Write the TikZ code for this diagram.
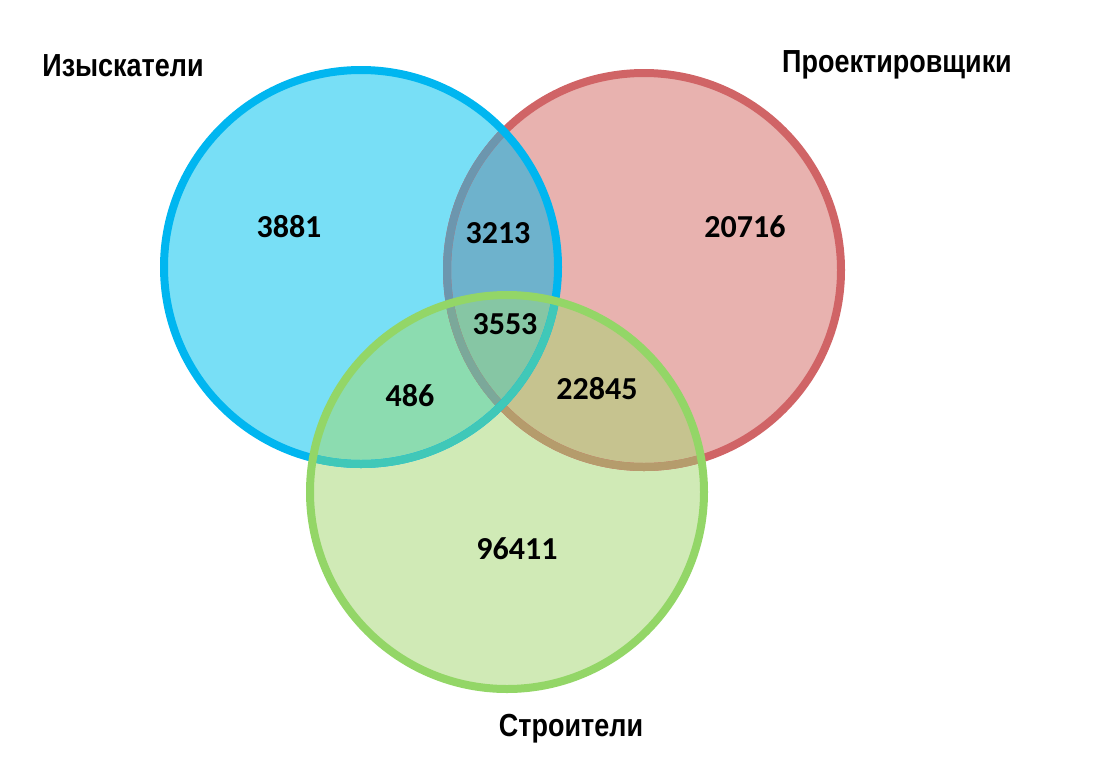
\documentclass[tikz,border=0pt]{standalone}
\usepackage{fontspec}
\setmainfont{Liberation Sans}
\newfontfamily\numfont{Carlito}
\definecolor{bluefill}{HTML}{78DFF6}
\definecolor{redfill}{HTML}{E8B2AF}
\definecolor{greenfill}{HTML}{D0EAB6}
\definecolor{brfill}{HTML}{6EB2CC}
\definecolor{bgfill}{HTML}{8CDCB0}
\definecolor{rgfill}{HTML}{C6C38F}
\definecolor{allfill}{HTML}{86C6A4}
\definecolor{blueline}{HTML}{00B6F0}
\definecolor{redline}{HTML}{D06466}
\definecolor{greenline}{HTML}{93D667}
\definecolor{redunderblue}{HTML}{6C96AE}
\definecolor{redundergreen}{HTML}{B59C6C}
\definecolor{redunderboth}{HTML}{7BA89A}
\definecolor{blueundergreen}{HTML}{40C8B8}
\newcommand{\lbltext}[1]{\scalebox{0.93}[1.1]{#1}}
\tikzset{
  ring/.style={line width=8pt},
  setlabel/.style={font=\fontsize{29}{34}\selectfont\bfseries, inner sep=0pt},
  count/.style={font=\numfont\fontsize{32}{36}\selectfont\bfseries, inner sep=0pt}
}
\begin{document}
\begin{tikzpicture}[x=1pt,y=-1pt]
\useasboundingbox (0,0) rectangle (1102,774);
\def\cB{(361,267) circle (197pt)}
\def\cR{(644,270) circle (197pt)}
\def\cG{(507,492) circle (197pt)}
% region fills
\fill[bluefill] \cB;
\fill[redfill] \cR;
\fill[greenfill] \cG;
\begin{scope}\clip \cB; \fill[brfill] \cR; \end{scope}
\begin{scope}\clip \cB; \fill[bgfill] \cG; \end{scope}
\begin{scope}\clip \cR; \fill[rgfill] \cG; \end{scope}
\begin{scope}\clip \cB; \clip \cR; \fill[allfill] \cG; \end{scope}
% outlines
\draw[ring, redline] \cR;
\begin{scope}\clip \cB; \draw[ring, redunderblue] \cR; \end{scope}
\begin{scope}\clip \cG; \draw[ring, redundergreen] \cR; \end{scope}
\begin{scope}\clip \cB; \clip \cG; \draw[ring, redunderboth] \cR; \end{scope}
\draw[ring, blueline] \cB;
\begin{scope}\clip \cG; \draw[ring, blueundergreen] \cB; \end{scope}
\draw[ring, greenline] \cG;
% labels
\node[setlabel] (lb) at (123,66) {\lbltext{Изыскатели}};
\node[setlabel] (lr) at (897,65) {\lbltext{Проектировщики}};
\node[setlabel] (lg) at (571,729) {\lbltext{Строители}};
% counts
\node[count] (nb) at (289,227) {3881};
\node[count] (nbr) at (498,233) {3213};
\node[count] (nr) at (745,227) {20716};
\node[count] (nall) at (505,324) {3553};
\node[count] (nbg) at (410,396) {486};
\node[count] (nrg) at (597,389) {22845};
\node[count] (ng) at (517,549) {96411};
\end{tikzpicture}
\end{document}
